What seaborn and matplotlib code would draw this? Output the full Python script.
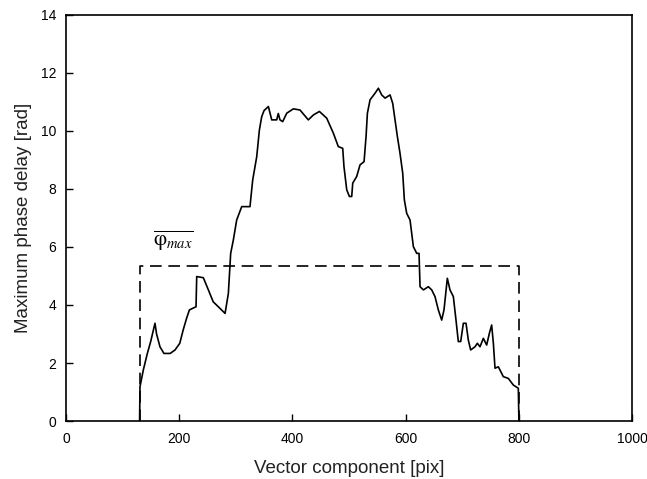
import numpy as np
import pandas as pd
import matplotlib
matplotlib.use("Agg")
import matplotlib.pyplot as plt
import seaborn as sns

comp = [130, 130.7, 136.6, 143.7, 149.6, 157.2, 160, 166, 173, 184, 192.6,
        201, 207, 213, 218, 229.7, 230.9, 242.6, 251.5, 260, 269, 281,
        286.8, 290.9, 295.6, 301.5, 310.4, 325, 329.8, 336.9, 341.6, 345.7,
        349.8, 357.5, 363.4, 372.2, 375, 378, 382.8, 389.9, 401.6, 413.4,
        428, 437, 447.6, 460.5, 472.3, 481, 488.8, 491, 495.9, 500.6, 504.7,
        506.5, 513.5, 519.4, 526.5, 530, 532.4, 537.1, 545.9, 551.8, 557.7,
        563.6, 572.4, 577.1, 581.2, 585.4, 590, 594.8, 597.7, 601.8, 607.7,
        613.6, 619.5, 623.6, 625.4, 631.3, 640.1, 646, 651.8, 657.7, 663.6,
        667.7, 673.6, 678.3, 684.2, 688.9, 693, 697.2, 701.9, 706.6, 710.7,
        714.8, 722.5, 726.6, 731.3, 737.2, 743.1, 747.8, 751.9, 754.9, 757.8,
        763.7, 772.5, 781.3, 790.2, 799, 800]
delay = [0, 1.18, 1.76, 2.33, 2.74, 3.37, 3.0, 2.56, 2.33, 2.33, 2.45,
         2.68, 3.14, 3.54, 3.83, 3.94, 4.98, 4.94, 4.52, 4.11, 3.94, 3.71,
         4.40, 5.78, 6.24, 6.93, 7.39, 7.39, 8.31, 9.11, 10.03, 10.49,
         10.70, 10.84, 10.38, 10.38, 10.6, 10.38, 10.32, 10.61, 10.76, 10.72,
         10.38, 10.55, 10.67, 10.44, 9.92, 9.46, 9.40, 8.77, 7.97, 7.74, 7.74,
         8.2, 8.43, 8.83, 8.94, 9.8, 10.61, 11.07, 11.30, 11.47, 11.24,
         11.13, 11.24, 10.95, 10.38, 9.80, 9.23, 8.54, 7.62, 7.16, 6.93,
         6.01, 5.78, 5.78, 4.63, 4.52, 4.63, 4.52, 4.29, 3.83, 3.48,
         3.83, 4.92, 4.52, 4.29, 3.48, 2.74, 2.74, 3.37, 3.37, 2.79,
         2.45, 2.56, 2.68, 2.56, 2.85, 2.62, 3.02, 3.31, 2.68, 1.82,
         1.87, 1.53, 1.47, 1.24, 1.13, 0]

# mean of the maximum phase delay over the window
win_x = [130, 130, 800, 800]
win_y = [0, 5.35, 5.35, 0]

sns.set_style("ticks")
plt.rcParams['font.family'] = ['Liberation Sans', 'DejaVu Sans']
plt.rcParams['mathtext.fontset'] = 'stix'

fig = plt.figure(figsize=(6.47, 4.79), dpi=100)
ax = fig.add_axes([0.102, 0.121, 0.875, 0.848])

df = pd.DataFrame({'x': comp, 'y': delay})
sns.lineplot(data=df, x='x', y='y', sort=False, color='black', linewidth=1.2, ax=ax)
ax.plot(win_x, win_y, color='black', linewidth=1.2, linestyle=(0, (7, 4)))

ax.text(154, 6.05, r'$\overline{\mathrm{φ}_{max}}$', fontsize=15, color='black')

ax.set_xlim(0, 1000)
ax.set_ylim(0, 14)
ax.set_xticks(np.arange(0, 1001, 200))
ax.set_yticks(np.arange(0, 15, 2))
ax.tick_params(direction='in', length=5, width=1, labelsize=10, colors='black',
               top=False, right=False)
ax.tick_params(axis='x', pad=8)
ax.tick_params(axis='y', pad=7)
for s in ax.spines.values():
    s.set_linewidth(1.2)
    s.set_color('black')
ax.set_xlabel('Vector component [pix]', fontsize=13.5, labelpad=10, color='#222222')
ax.set_ylabel('Maximum phase delay [rad]', fontsize=13.5, labelpad=6, color='#222222')

fig.savefig('out.png', dpi=100)
